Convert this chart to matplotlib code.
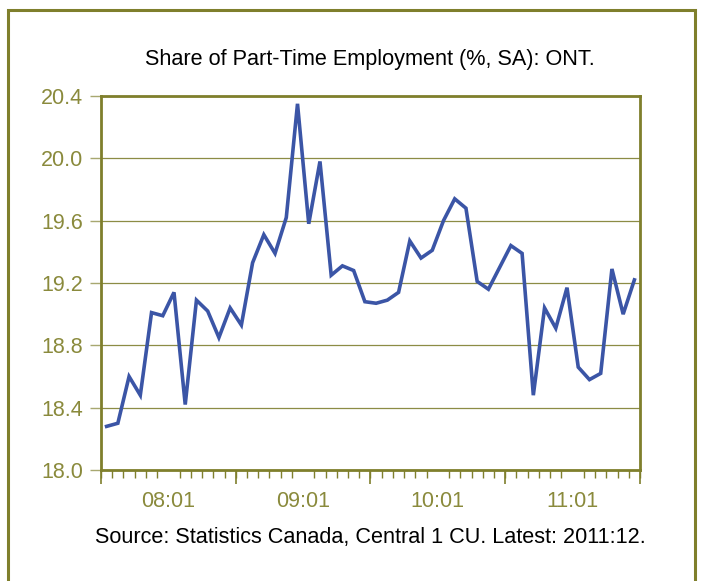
import matplotlib
matplotlib.use("Agg")
import matplotlib.pyplot as plt
from matplotlib.patches import Rectangle

months = [f"{y}:{m:02d}" for y in range(2008, 2012) for m in range(1, 13)]
share = [18.28, 18.30, 18.60, 18.48, 19.01, 18.99, 19.14, 18.42, 19.09, 19.02, 18.85, 19.04,
         18.93, 19.33, 19.51, 19.39, 19.62, 20.35, 19.58, 19.98, 19.25, 19.31, 19.28, 19.08,
         19.07, 19.09, 19.14, 19.47, 19.36, 19.41, 19.60, 19.74, 19.68, 19.21, 19.16, 19.30,
         19.44, 19.39, 18.48, 19.04, 18.91, 19.17, 18.66, 18.58, 18.62, 19.29, 19.00, 19.22]
year_labels = ["08:01", "09:01", "10:01", "11:01"]
y_ticks = [18.0, 18.4, 18.8, 19.2, 19.6, 20.0, 20.4]

OLIVE = "#7f7f2c"
GRID = "#8c8c45"
LABEL = "#8a8a3c"
LINE = "#3b55a6"

plt.rcParams['font.family'] = ['Liberation Sans', 'DejaVu Sans']

W, H = 701, 581
fig = plt.figure(figsize=(W / 100, H / 100), dpi=100)
fig.patch.set_facecolor("white")

# outer frame
fig.patches.append(Rectangle((8 / W, -0.05), (695 - 8) / W, (H - 10) / H + 0.05,
                             transform=fig.transFigure, fill=False,
                             edgecolor=OLIVE, linewidth=2.2))

ax = fig.add_axes([101 / W, (H - 470) / H, (640 - 101) / W, (470 - 96) / H])
x = list(range(len(share)))
ax.plot(x, share, color=LINE, linewidth=2.6, solid_joinstyle='miter', zorder=3)

ax.set_xlim(-0.5, len(share) - 0.5)
ax.set_ylim(18.0, 20.4)
ax.set_yticks(y_ticks)
ax.set_yticklabels([f"{v:.1f}" for v in y_ticks])
ax.yaxis.grid(True, color=GRID, linewidth=0.9)
ax.set_axisbelow(True)

for s in ax.spines.values():
    s.set_color(OLIVE)
    s.set_linewidth(2.0)

ax.tick_params(axis='y', which='major', length=8, width=1.0, color="#a8a870",
               labelcolor=LABEL, labelsize=15.5, pad=5)

# month boundary ticks (short) and year labels centered in each year
bounds = [i - 0.5 for i in range(len(share) + 1)]
ax.set_xticks(bounds, minor=True)
ax.set_xticks([12 * k + 5.5 for k in range(len(year_labels))])
ax.set_xticklabels(year_labels)
ax.tick_params(axis='x', which='minor', length=6, width=1.0, color=OLIVE)
ax.tick_params(axis='x', which='major', length=0, labelcolor=LABEL, labelsize=15.5, pad=15)

# year boundary ticks (long)
sec = ax.secondary_xaxis('bottom')
sec.set_xticks([12 * k - 0.5 for k in range(len(year_labels) + 1)])
sec.set_xticklabels([])
sec.tick_params(axis='x', length=10, width=1.2, color=OLIVE)
sec.spines['bottom'].set_visible(False)

fig.text(370 / W, 1 - 59 / H, "Share of Part-Time Employment (%, SA): ONT.",
         ha='center', va='center', fontsize=15.6, color='black')
fig.text(370 / W, 1 - 538 / H, "Source: Statistics Canada, Central 1 CU. Latest: 2011:12.",
         ha='center', va='center', fontsize=15.6, color='black')

fig.savefig("out.png", dpi=100, facecolor="white")
